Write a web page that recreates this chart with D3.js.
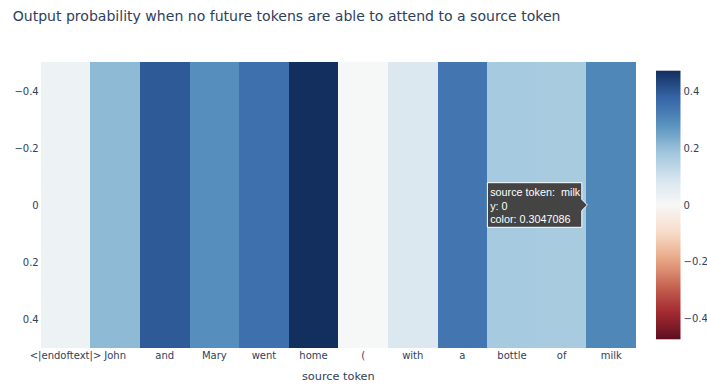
<!DOCTYPE html>
<html>
<head>
<meta charset="utf-8">
<script src="https://cdn.jsdelivr.net/npm/d3@7"></script>
<style>
  html, body { margin: 0; padding: 0; background: #fff; }
  svg { display: block; }
</style>
</head>
<body>
<svg id="chart" width="707" height="385"></svg>
<script>
// Source tokens along the x axis
const tokens = ["<|endoftext|>", "John", "and", "Mary", "went", "home", "(", "with", "a", "bottle", "of", "milk"];
// Output probability for each source token (single row, y = 0)
const probs = [0.028, 0.207, 0.397, 0.29, 0.354, 0.473, 0.002, 0.076, 0.341, 0.172, 0.168, 0.3047086];
// Row index for the single heatmap row
const rows = [0];
// Tick values for the y axis and the colour bar
const yTicks = [-0.4, -0.2, 0, 0.2, 0.4];
const cbTicks = [-0.4, -0.2, 0, 0.2, 0.4];
// Hovered cell shown with a label
const hoverToken = "milk";

const title = "Output probability when no future tokens are able to attend to a source token";
const xTitle = "source token";

// Display-P3 rendering of an sRGB colour (as seen on a wide-gamut screen capture)
function toP3(c) {
  const rgb = d3.rgb(c);
  const lin = v => { v /= 255; return v <= 0.04045 ? v / 12.92 : Math.pow((v + 0.055) / 1.055, 2.4); };
  const enc = v => { v = Math.max(0, Math.min(1, v)); return 255 * (v <= 0.0031308 ? 12.92 * v : 1.055 * Math.pow(v, 1 / 2.4) - 0.055); };
  const r = lin(rgb.r), g = lin(rgb.g), b = lin(rgb.b);
  return d3.rgb(
    enc(0.8225 * r + 0.1774 * g),
    enc(0.0332 * r + 0.9669 * g),
    enc(0.0171 * r + 0.0724 * g + 0.9108 * b)
  ).formatRgb();
}

const svg = d3.select("#chart");
const plot = { left: 40.7, right: 636, top: 62.3, bottom: 347.7 };
const textColor = toP3("#2a3f5f");
const font = "'DejaVu Sans', Verdana, sans-serif";

// RdBu diverging scale, blue for positive values, symmetric around 0
const rdbu = ["rgb(103,0,31)", "rgb(178,24,43)", "rgb(214,96,77)", "rgb(244,165,130)", "rgb(253,219,199)",
              "rgb(247,247,247)", "rgb(209,229,240)", "rgb(146,197,222)", "rgb(67,147,195)", "rgb(33,102,172)", "rgb(5,48,97)"];
const zmax = d3.max(probs, d => Math.abs(d));
const stops = rdbu.map((_, i) => -zmax + (2 * zmax) * i / (rdbu.length - 1));
const baseColor = d3.scaleLinear().domain(stops).range(rdbu).interpolate(d3.interpolateRgb).clamp(true);
const color = v => toP3(baseColor(v));

const x = d3.scaleBand().domain(tokens).range([plot.left, plot.right]).paddingInner(0).paddingOuter(0);
const y = d3.scaleLinear().domain([-0.5, 0.5]).range([plot.top, plot.bottom]);

// Title
svg.append("text")
  .attr("x", 12.7).attr("y", 21)
  .attr("font-family", font).attr("font-size", 14.05)
  .attr("fill", textColor)
  .text(title);

// Heatmap cells
const cells = tokens.map((t, i) => ({ token: t, row: rows[0], value: probs[i] }));
svg.append("g").selectAll("rect").data(cells).join("rect")
  .attr("x", d => x(d.token))
  .attr("y", d => y(d.row - 0.5))
  .attr("width", x.bandwidth() + 0.3)
  .attr("height", d => y(d.row + 0.5) - y(d.row - 0.5))
  .attr("fill", d => color(d.value))
  .attr("shape-rendering", "crispEdges");

// X axis tick labels
const xAxis = d3.axisBottom(x).tickSize(0).tickPadding(0);
const gx = svg.append("g").attr("transform", `translate(0,${plot.bottom})`).call(xAxis);
gx.select(".domain").remove();
gx.selectAll("text")
  .attr("y", 0).attr("dy", 0)
  .attr("transform", "translate(0,11.3)")
  .attr("font-family", font).attr("font-size", 10)
  .attr("fill", textColor);

// X axis title
svg.append("text")
  .attr("x", (plot.left + plot.right) / 2).attr("y", 380)
  .attr("text-anchor", "middle")
  .attr("font-family", font).attr("font-size", 11.3)
  .attr("fill", textColor)
  .text(xTitle);

// Y axis tick labels
const fmt = d3.format("~g");
const yAxis = d3.axisLeft(y).tickValues(yTicks).tickSize(0).tickPadding(2).tickFormat(fmt);
const gy = svg.append("g").attr("transform", `translate(${plot.left},0)`).call(yAxis);
gy.select(".domain").remove();
gy.selectAll("text")
  .attr("font-family", font).attr("font-size", 10)
  .attr("fill", textColor);

// Colour bar
const cb = { x: 656, width: 24.5, top: 70.7, bottom: 339.3 };
const cbScale = d3.scaleLinear().domain([-zmax, zmax]).range([cb.bottom, cb.top]);
const defs = svg.append("defs");
const gradStops = d3.range(0, 41).map(i => -zmax + 2 * zmax * i / 40);
const grad = defs.append("linearGradient").attr("id", "cbgrad")
  .attr("x1", 0).attr("y1", 1).attr("x2", 0).attr("y2", 0);
grad.selectAll("stop").data(gradStops).join("stop")
  .attr("offset", (d, i) => i / (gradStops.length - 1))
  .attr("stop-color", d => color(d));
svg.append("rect")
  .attr("x", cb.x).attr("y", cb.top)
  .attr("width", cb.width).attr("height", cb.bottom - cb.top)
  .attr("fill", "url(#cbgrad)");
const cbAxis = d3.axisRight(cbScale).tickValues(cbTicks).tickSize(0).tickPadding(3).tickFormat(fmt);
const gcb = svg.append("g").attr("transform", `translate(${cb.x + cb.width},0)`).call(cbAxis);
gcb.select(".domain").remove();
gcb.selectAll("text")
  .attr("font-family", font).attr("font-size", 10)
  .attr("fill", textColor);

// Hover label on the chosen cell
const hi = tokens.indexOf(hoverToken);
const hv = probs[hi];
const tipX = x(hoverToken) + 1;
const tipY = y(rows[0]);
const boxW = 94.4, boxH = 44.6, arrow = 5.6;
const bx = tipX - arrow - boxW, by = tipY - boxH / 2;
const hover = svg.append("g");
hover.append("path")
  .attr("d", `M${tipX},${tipY} L${tipX - arrow},${tipY - arrow} L${tipX - arrow},${by} L${bx},${by} L${bx},${by + boxH} L${tipX - arrow},${by + boxH} L${tipX - arrow},${tipY + arrow} Z`)
  .attr("fill", "rgb(68,68,68)")
  .attr("stroke", "#fff").attr("stroke-width", 1);
const lines = [`source token:  ${hoverToken}`, `y: ${rows[0]}`, `color: ${hv}`];
hover.selectAll("text").data(lines).join("text")
  .attr("x", bx + 2.8)
  .attr("y", (d, i) => by + 13.4 + i * 13.6)
  .attr("font-family", "Arial, 'Liberation Sans', sans-serif").attr("font-size", 10.8)
  .attr("fill", "#fff")
  .attr("xml:space", "preserve")
  .style("white-space", "pre")
  .text(d => d);
</script>
</body>
</html>
